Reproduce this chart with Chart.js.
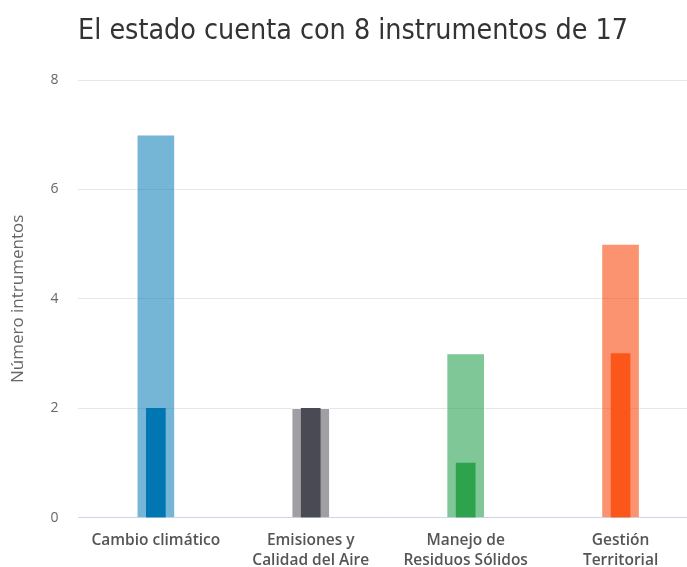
<!DOCTYPE html>
<html>
<head>
<meta charset="utf-8">
<script src="https://cdn.jsdelivr.net/npm/chart.js@4"></script>
<style>
    html, body { margin: 0; padding: 0; background: #fff; overflow: hidden; }
    #wrap { width: 698px; height: 567px; }
</style>
</head>
<body>
<div id="wrap"><canvas id="chart"></canvas></div>
<script>
    const categories = [
        ['Cambio climático'],
        ['Emisiones y', 'Calidad del Aire'],
        ['Manejo de', 'Residuos Sólidos'],
        ['Gestión', 'Territorial']
    ];
    const totalInstruments = [7, 2, 3, 5];
    const stateInstruments = [2, 2, 1, 3];
    const yTicks = [0, 2, 4, 6, 8];

    const lightColors = ['rgba(25,132,187,0.6)', 'rgba(97,97,103,0.6)', 'rgba(42,162,82,0.6)', 'rgba(250,75,17,0.6)'];
    const darkColors = ['#0077b3', '#4a4a55', '#2ea34e', '#fc571b'];

    const ctx = document.getElementById('chart').getContext('2d');
    new Chart(ctx, {
        type: 'bar',
        data: {
            labels: categories,
            datasets: [
                {
                    label: 'Con instrumento',
                    data: stateInstruments,
                    backgroundColor: darkColors,
                    barThickness: 19,
                    grouped: false,
                    order: 0
                },
                {
                    label: 'Total',
                    data: totalInstruments,
                    backgroundColor: lightColors,
                    borderColor: 'rgba(255,255,255,0.5)',
                    borderWidth: 1,
                    barThickness: 38,
                    grouped: false,
                    order: 1
                }
            ]
        },
        options: {
            responsive: true,
            maintainAspectRatio: false,
            animation: false,
            layout: { padding: { left: 8, right: 0, top: 0, bottom: -17 } },
            plugins: {
                legend: { display: false },
                tooltip: { enabled: false },
                title: {
                    display: true,
                    text: 'El estado cuenta con 8 instrumentos de 17',
                    color: '#333',
                    font: { family: "'DejaVu Sans Condensed', 'Open Sans'", size: 28.4, weight: 'normal' },
                    padding: { top: 15, bottom: 31 }
                }
            },
            scales: {
                x: {
                    grid: { display: false, drawTicks: false },
                    border: { display: true, color: '#ccd6eb', width: 1 },
                    ticks: {
                        color: '#555',
                        padding: 13,
                        maxRotation: 0,
                        font: { family: 'Open Sans', size: 15.5, weight: '600', lineHeight: 1.3 }
                    }
                },
                y: {
                    min: 0,
                    max: 8,
                    afterBuildTicks: axis => { axis.ticks = yTicks.map(v => ({ value: v })); },
                    grid: { color: '#e6e6e6', drawTicks: false },
                    border: { display: false },
                    ticks: {
                        color: '#666',
                        padding: 20,
                        font: { family: 'Open Sans', size: 14 }
                    },
                    title: {
                        display: true,
                        text: 'Número intrumentos',
                        color: '#666',
                        padding: { top: 0, bottom: 2 },
                        font: { family: 'Open Sans', size: 17 }
                    }
                }
            }
        }
    });
</script>
</body>
</html>
